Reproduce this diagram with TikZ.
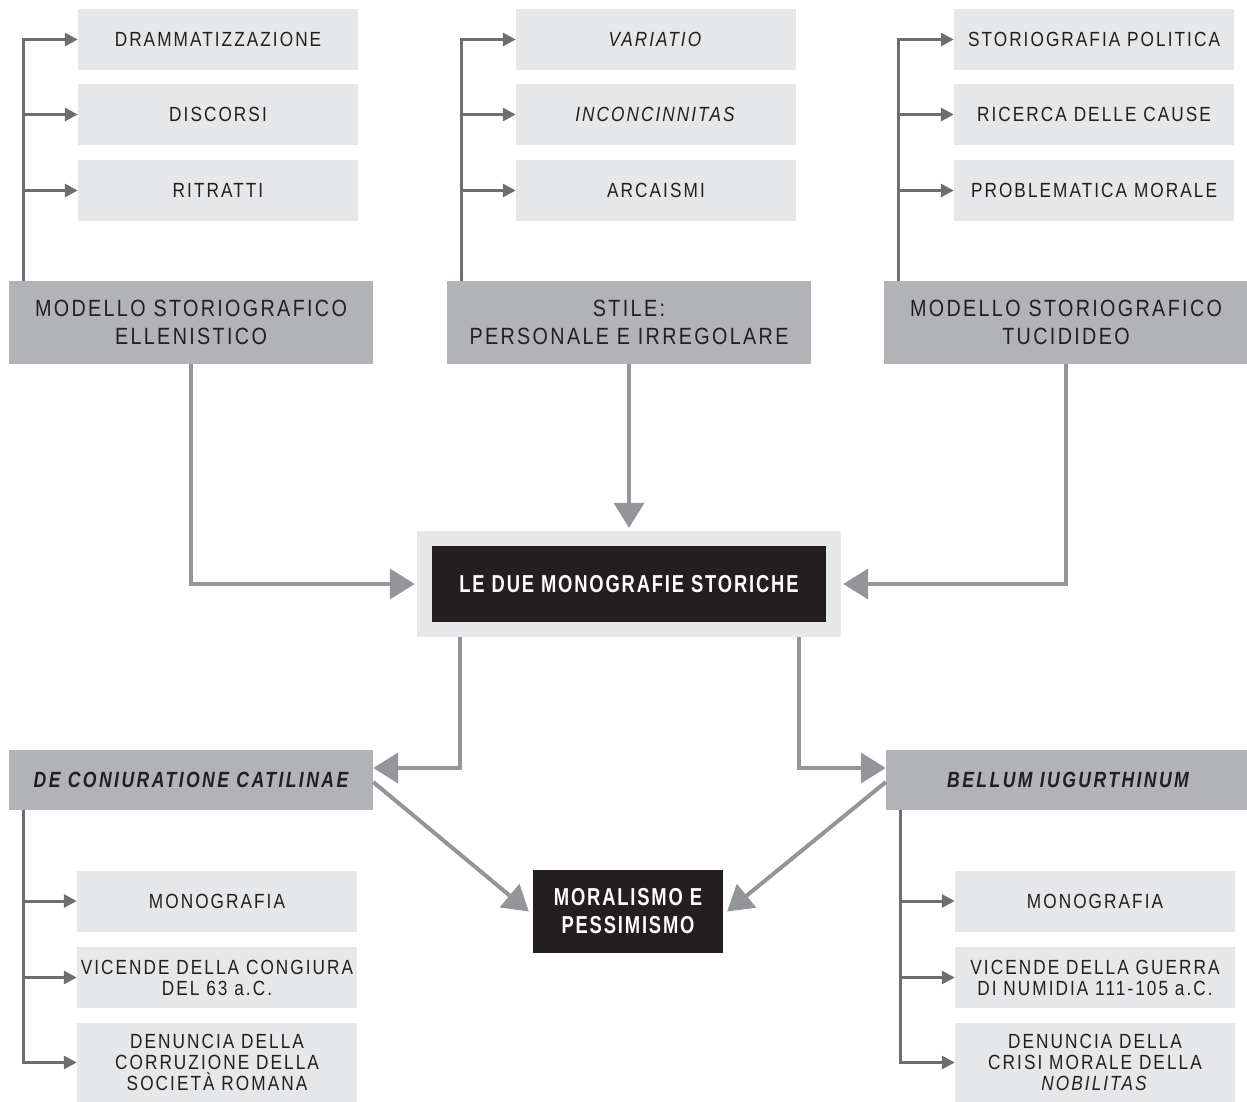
\documentclass[tikz,border=0pt]{standalone}
\usepackage{fontspec}
\setmainfont{Liberation Sans}[FakeStretch=0.84,LetterSpace=10]
\newfontfamily\heavyfont{Liberation Sans}[FakeStretch=0.75,LetterSpace=7.5]
\newfontfamily\workfont{Liberation Sans}[FakeStretch=0.8,LetterSpace=11]
\usetikzlibrary{arrows.meta}
\definecolor{inkblack}{HTML}{231F20}
\definecolor{palegray}{HTML}{E6E7E8}
\definecolor{boxgray}{HTML}{B1B3B6}
\definecolor{linkgray}{HTML}{6D6E71}
\definecolor{flowgray}{HTML}{939598}
\tikzset{
	leaf/.style={fill=palegray, text=inkblack, minimum width=280, minimum height=61, inner sep=0pt, align=center, font=\fontsize{20.5}{21}\selectfont},
	topic/.style={fill=boxgray, text=inkblack, minimum width=364, minimum height=83, inner sep=0pt, align=center, font=\fontsize{23.5}{28.5}\selectfont},
	work/.style={fill=boxgray, text=inkblack, minimum width=364, minimum height=60, inner sep=0pt, font=\workfont\bfseries\itshape\fontsize{22}{24}\selectfont},
	core/.style={fill=inkblack, text=white, inner sep=0pt, align=center, font=\heavyfont\bfseries\fontsize{24.5}{28}\selectfont},
	link/.style={draw=linkgray, line width=3pt, -{Triangle[length=13pt,width=13pt]}},
	flow/.style={draw=flowgray, line width=4pt, -{Triangle[length=25pt,width=30pt]}},
}
\begin{document}
\begin{tikzpicture}[x=1pt,y=-1pt]
			%\draw[help lines, color=gray!30] (0,0) grid[step=100] (1247,1102);
			\useasboundingbox (0,0) rectangle (1247,1102);
			% three models
			\node[topic] (ell) at (191,322.5) {MODELLO STORIOGRAFICO\\ELLENISTICO};
			\node[topic] (stile) at (629,322.5) {STILE:\\PERSONALE E IRREGOLARE};
			\node[topic] (tuc) at (1066,322.5) {MODELLO STORIOGRAFICO\\TUCIDIDEO};
			\node[leaf] (dram) at (218,39.5) {DRAMMATIZZAZIONE};
			\node[leaf] (disc) at (218,114.5) {DISCORSI};
			\node[leaf] (ritr) at (218,190.5) {RITRATTI};
			\node[leaf] (vari) at (656,39.5) {\textit{VARIATIO}};
			\node[leaf] (inco) at (656,114.5) {\textit{INCONCINNITAS}};
			\node[leaf] (arca) at (656,190.5) {ARCAISMI};
			\node[leaf] (poli) at (1094,39.5) {STORIOGRAFIA POLITICA};
			\node[leaf] (caus) at (1094,114.5) {RICERCA DELLE CAUSE};
			\node[leaf] (prob) at (1094,190.5) {PROBLEMATICA MORALE};
			\foreach \top/\leaf in {ell/dram,ell/disc,ell/ritr,stile/vari,stile/inco,stile/arca,tuc/poli,tuc/caus,tuc/prob}
				\draw[link] ([xshift=14.5]\top.north west) |- (\leaf.west);
			% centre
			\node[fill=palegray, minimum width=424, minimum height=106] (frame) at (629,584) {};
			\node[core, minimum width=394, minimum height=76] (mono) at (629,584) {LE DUE MONOGRAFIE STORICHE};
			\draw[flow] (stile.south) -- ([yshift=3]frame.north);
			\draw[flow] (ell.south) |- ([xshift=-2]frame.west);
			\draw[flow] (tuc.south) |- ([xshift=2]frame.east);
			% the two works
			\node[work] (cat) at (191,780) {DE CONIURATIONE CATILINAE};
			\node[work] (bel) at (1068,780) {BELLUM IUGURTHINUM};
			\node[core, minimum width=190, minimum height=83] (moral) at (628,911.5) {MORALISMO E\\PESSIMISMO};
			\draw[flow] ([xshift=-169]frame.south) |- ([yshift=12]cat.east);
			\draw[flow] ([xshift=170]frame.south) |- ([yshift=12]bel.west);
			\draw[flow] ([yshift=-2]cat.east) -- ([xshift=-4]moral.west);
			\draw[flow] ([yshift=-2]bel.west) -- ([xshift=4]moral.east);
			\node[leaf] (mcat) at (217,901) {MONOGRAFIA};
			\node[leaf] (vcat) at (217,977.5) {VICENDE DELLA CONGIURA\\DEL 63 a.C.};
			\node[leaf, minimum height=79] (dcat) at (217,1062.5) {DENUNCIA DELLA\\CORRUZIONE DELLA\\SOCIETÀ ROMANA};
			\node[leaf] (mbel) at (1095,901) {MONOGRAFIA};
			\node[leaf] (vbel) at (1095,977.5) {VICENDE DELLA GUERRA\\DI NUMIDIA 111-105 a.C.};
			\node[leaf, minimum height=79] (dbel) at (1095,1062.5) {DENUNCIA DELLA\\CRISI MORALE DELLA\\\textit{NOBILITAS}};
			\foreach \top/\leaf in {cat/mcat,cat/vcat,cat/dcat,bel/mbel,bel/vbel,bel/dbel}
				\draw[link] ([xshift=15]\top.south west) |- (\leaf.west);
\end{tikzpicture}
\end{document}
